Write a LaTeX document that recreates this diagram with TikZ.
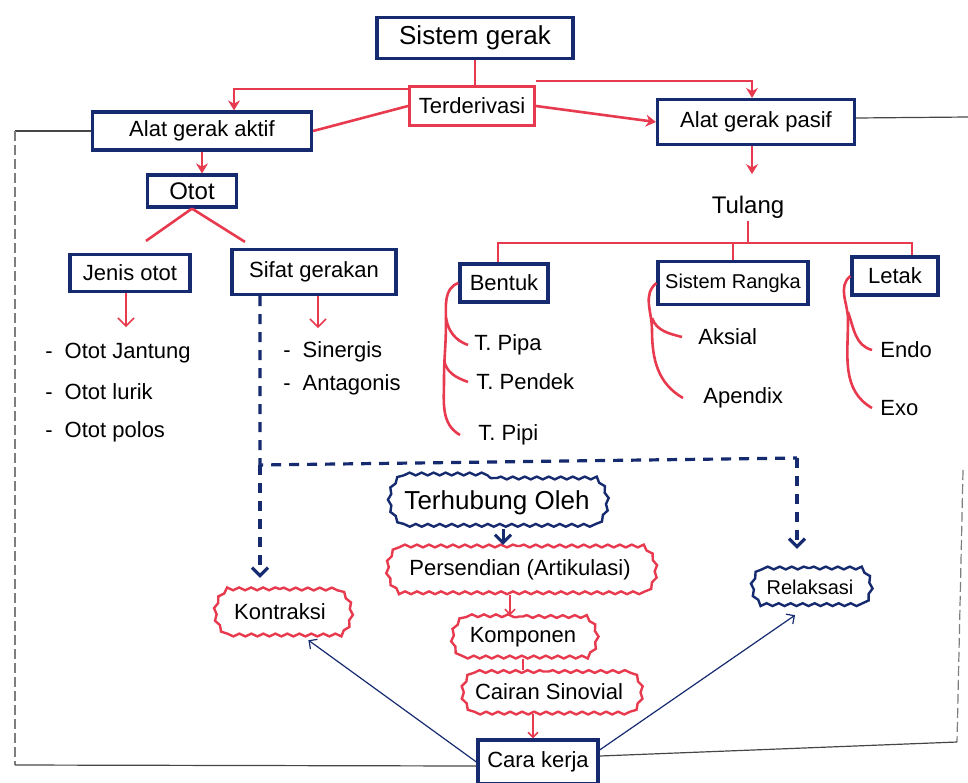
\documentclass[tikz,border=0pt]{standalone}
\usepackage{fontspec}
\setmainfont{Liberation Sans}
\usetikzlibrary{decorations.pathmorphing,arrows.meta,shapes.misc}
\definecolor{ink}{RGB}{22,42,112}
\definecolor{pen}{RGB}{232,58,78}
\definecolor{frame}{RGB}{70,70,70}
\begin{document}
\begin{tikzpicture}[x=0.5pt,y=-0.5pt,
  font=\fontsize{11}{13}\selectfont,
  bbox/.style={draw=ink,line width=1.6pt,inner sep=1pt},
  rbox/.style={draw=pen,line width=1.5pt,inner sep=1pt},
  wavy/.style={draw=#1,line width=1.2pt,inner sep=1pt,shape=rounded rectangle,
    rounded rectangle arc length=110,
    decorate,decoration={snake,amplitude=0.7pt,segment length=6pt}},
  txt/.style={anchor=west,inner sep=0pt},
  rl/.style={draw=pen,line width=1.3pt},
  rthin/.style={draw=pen,line width=0.8pt},
  bl/.style={draw=ink,line width=1.5pt},
  bthin/.style={draw=ink,line width=0.6pt},
  bd/.style={draw=ink,line width=1.6pt,dash pattern=on 5pt off 4pt},
  fr/.style={draw=frame,line width=0.6pt},
  frd/.style={draw=frame!70,line width=0.6pt,dash pattern=on 5pt off 2pt},
  rtip/.style={-{Stealth[length=5pt,width=6pt]}},
  vtip/.style={-{Straight Barb[length=4pt,width=8pt]}}
]
\useasboundingbox (0,0) rectangle (968,782);

% boxes
\node[bbox,minimum width=98pt,minimum height=20.5pt,font=\fontsize{13}{15}\selectfont] (sg) at (475,38) {Sistem gerak};
\node[rbox,minimum width=62.5pt,minimum height=19.5pt] (td) at (472,106) {Terderivasi};
\node[bbox,minimum width=109.5pt,minimum height=19pt] (aa) at (202,131) {Alat gerak aktif};
\node[bbox,minimum width=98.5pt,minimum height=22.5pt] (ap) at (756,122) {Alat gerak pasif};
\node[bbox,minimum width=44.5pt,minimum height=16pt,font=\fontsize{12}{14}\selectfont] (oto) at (192,191) {Otot};
\node[inner sep=1pt,font=\fontsize{12}{14}\selectfont] (tl) at (748,207) {Tulang};
\node[bbox,minimum width=60pt,minimum height=18.5pt] (jo) at (130,273) {Jenis otot};
\node[bbox,minimum width=82pt,minimum height=22.5pt] (sf) at (314,272) {Sifat gerakan};
\node[bbox,minimum width=44pt,minimum height=19pt] (bt) at (504,283) {Bentuk};
\node[bbox,minimum width=75pt,minimum height=21.5pt,font=\fontsize{10}{12}\selectfont] (sr) at (733,283) {Sistem Rangka};
\node[bbox,minimum width=43pt,minimum height=19pt] (ltk) at (895,276) {Letak};

% lists
\node[txt] (oj) at (45,353) {-\hspace{6pt}Otot Jantung};
\node[txt] (ol) at (45,392) {-\hspace{6pt}Otot lurik};
\node[txt] (op) at (45,432) {-\hspace{6pt}Otot polos};
\node[txt] (sn) at (283,352) {-\hspace{6pt}Sinergis};
\node[txt] (an) at (283,385) {-\hspace{6pt}Antagonis};
\node[txt] (tp) at (474,345) {T. Pipa};
\node[txt] (tpd) at (476,382) {T. Pendek};
\node[txt] (tpp) at (478,435) {T. Pipi};
\node[txt] (ak) at (698,337) {Aksial};
\node[txt] (apx) at (703,398) {Apendix};
\node[txt] (en) at (880,350) {Endo};
\node[txt] (ex) at (880,408) {Exo};

% wavy nodes
\node[wavy=ink,minimum width=110pt,minimum height=25pt,font=\fontsize{13}{15}\selectfont] (th) at (497,503) {Terhubung Oleh};
\node[wavy=pen,minimum width=136pt,minimum height=24pt] (ps) at (520,570) {Persendian (Artikulasi)};
\node[wavy=pen,minimum width=74pt,minimum height=20.5pt] (km) at (523,637) {Komponen};
\node[wavy=pen,minimum width=91pt,minimum height=20.5pt] (cs) at (549,692) {Cairan Sinovial};
\node[wavy=pen,minimum width=70pt,minimum height=23pt] (kt) at (280,612) {Kontraksi};
\node[wavy=ink,minimum width=61pt,minimum height=19pt,font=\fontsize{10}{12}\selectfont] (rk) at (810,587) {Relaksasi};
\node[bbox,minimum width=60pt,minimum height=22pt] (ck) at (538,762) {Cara kerja};

% top red connectors
\draw[rl] (sg.south) -- (sg.south |- td.north);
\draw[rl,rtip] ([yshift=-2pt]td.north west) -| ([xshift=16pt]aa.north);
\draw[rl,rtip] ([yshift=2pt]td.north east) -| ([xshift=-2pt]ap.north);
\draw[rl] (td.west) -- (aa.east);
\draw[rl,rtip] (td.east) -- (ap.west);
\draw[rl,rtip] (aa.south) -- (aa.south |- oto.north);
\draw[rl] (oto.south) -- ([xshift=8pt,yshift=6pt]jo.north);
\draw[rl] (oto.south) -- ([xshift=-34.5pt,yshift=3pt]sf.north);
\draw[rthin,vtip] ([xshift=-2pt]jo.south) -- ++(0,34);
\draw[rthin,vtip] ([xshift=2pt]sf.south) -- ++(0,32);
\draw[rl,rtip] ([xshift=-2pt]ap.south) -- ++(0,28);

% Tulang branches
\coordinate (tb) at (748,243);
\draw[rl] (tl.south) -- (tb);
\draw[rl] ([xshift=-3pt]bt.north) |- ([xshift=8.5pt]ltk.north |- tb) -- ([xshift=8.5pt]ltk.north);
\draw[rl] (sr.north) -- (sr.north |- tb);

% brackets
\draw[rl] (bt.west) to[out=200,in=90] (446,322) to[out=-90,in=90] (444,380) to[out=-90,in=150] ([xshift=-9pt]tpp.west);
\draw[rl] (446,318) to[out=-80,in=160] ([xshift=-3pt]tp.west);
\draw[rl] (444,360) to[out=-80,in=160] ([xshift=-4pt]tpd.west);
\draw[rl] (sr.west) to[out=220,in=90] (652,330) to[out=-90,in=150] ([xshift=-10pt]apx.west);
\draw[rl] (652,318) to[out=-70,in=165] ([xshift=-8pt]ak.west);
\draw[rl] (ltk.west) to[out=220,in=90] (848,320) to[out=-90,in=150] ([xshift=-4pt]ex.west);
\draw[rl] (848,312) to[out=-70,in=165] ([xshift=-4pt]en.west);

% blue dashed
\coordinate (dl) at (260,465);
\coordinate (dr) at (797,458);
\draw[bd] ([xshift=-27pt]sf.south) -- (dl) -- (dr);
\draw[bd,vtip] (dl) -- ([yshift=5pt]dl |- kt.north);
\draw[bd,vtip] (dr) -- ([yshift=9pt]dr |- rk.north);

% middle chain
\draw[bl,-{Straight Barb[length=4pt,width=8pt]}] ([xshift=3pt]th.south) -- ([xshift=3pt]th.south |- ps.north);
\draw[rthin,-{Straight Barb[length=2.5pt,width=5pt]}] ([xshift=-5pt]ps.south) -- ([xshift=-5pt]ps.south |- km.north);
\draw[rthin] (km.south) -- (km.south |- cs.north);
\draw[rthin,-{Straight Barb[length=2.5pt,width=5pt]}] ([xshift=-8pt]cs.south) -- ([xshift=-8pt]cs.south |- ck.north);
\draw[bthin,-{Straight Barb[length=3pt,width=6pt]}] (ck.west) -- ([xshift=-14pt,yshift=-2pt]kt.south east);
\draw[bthin,-{Straight Barb[length=3pt,width=6pt]}] ([yshift=6pt]ck.east) -- ([xshift=-7.5pt,yshift=-4pt]rk.south);

% frame
\coordinate (ftl) at (15,131);
\coordinate (fbl) at (15,765);
\coordinate (ftr) at (968,117);
\coordinate (frt) at (963,470);
\coordinate (frb) at (957,742);
\draw[fr] (aa.west) -- (aa.west -| ftl);
\draw[frd] (aa.west -| ftl) -- (fbl);
\draw[fr] (fbl) -- ([yshift=-2pt]ck.west);
\draw[fr] ([yshift=2pt]ap.east) -- (ftr);
\draw[frd] (frt) -- (frb);
\draw[fr] ([yshift=3pt]ck.east) -- (frb);
\end{tikzpicture}
\end{document}
